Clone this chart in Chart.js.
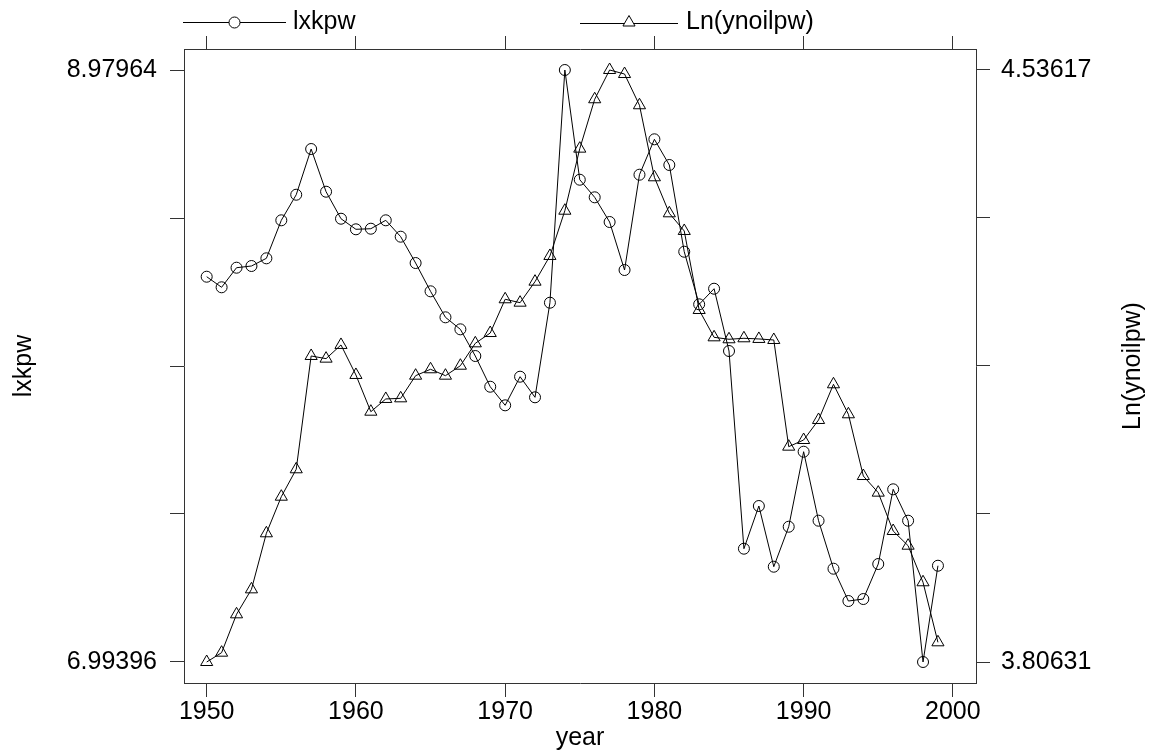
<!DOCTYPE html>
<html>
<head>
<meta charset="utf-8">
<script src="https://cdn.jsdelivr.net/npm/chart.js"></script>
<style>
  body { margin: 0; background: #fff; }
</style>
</head>
<body>
<canvas id="chart" width="1151" height="750"></canvas>
<script>
// data
const years = [1950, 1951, 1952, 1953, 1954, 1955, 1956, 1957, 1958, 1959,
  1960, 1961, 1962, 1963, 1964, 1965, 1966, 1967, 1968, 1969,
  1970, 1971, 1972, 1973, 1974, 1975, 1976, 1977, 1978, 1979,
  1980, 1981, 1982, 1983, 1984, 1985, 1986, 1987, 1988, 1989,
  1990, 1991, 1992, 1993, 1994, 1995, 1996, 1997, 1998, 1999];

const lxkpw = [8.2863, 8.2508, 8.3165, 8.3222, 8.3480, 8.4755, 8.5613, 8.7146, 8.5714, 8.4808,
  8.4453, 8.4473, 8.4755, 8.4205, 8.3322, 8.2373, 8.1501, 8.1098, 8.0203, 7.9173,
  7.8549, 7.9509, 7.8818, 8.1991, 8.97964, 8.6116, 8.5526, 8.4698, 8.3088, 8.6284,
  8.7472, 8.6610, 8.3701, 8.1937, 8.2460, 8.0371, 7.3740, 7.5172, 7.3136, 7.4477,
  7.6993, 7.4679, 7.3069, 7.1985, 7.2052, 7.3226, 7.5732, 7.4679, 6.99396, 7.3169];

const lnYnoilpw = [3.80631, 3.8178, 3.8651, 3.8959, 3.9650, 4.0101, 4.0439, 4.1836, 4.1803, 4.1972,
  4.1602, 4.1149, 4.1306, 4.1314, 4.1593, 4.1672, 4.1593, 4.1716, 4.1992, 4.2119,
  4.2535, 4.2493, 4.2752, 4.3069, 4.3627, 4.4392, 4.5001, 4.53617, 4.5312, 4.4927,
  4.4039, 4.3595, 4.3377, 4.2403, 4.2066, 4.2042, 4.2054, 4.2046, 4.2033, 4.0718,
  4.0800, 4.1047, 4.1487, 4.1117, 4.0356, 4.0151, 3.9678, 3.9497, 3.9046, 3.8306];

const xTicks = [1950, 1960, 1970, 1980, 1990, 2000];
const leftTicks = [6.99396, 7.49038, 7.98680, 8.48322, 8.97964];
const rightTicks = [3.80631, 3.98878, 4.17124, 4.35371, 4.53617];

const FONT = "'Liberation Sans', Arial, Helvetica, sans-serif";
const frame = '#333';

function pts(ys) {
  return years.map((yr, i) => ({ x: yr, y: ys[i] }));
}

function setTicks(list) {
  return function (scale) {
    scale.ticks = list.map(v => ({ value: v }));
  };
}

// only the end ticks carry a label, like the original
function endLabels(list) {
  return function (value, index) {
    if (index === 0 || index === list.length - 1) return String(list[index]);
    return '';
  };
}

// legend on top and the right axis title (reads upward)
const extras = {
  id: 'extras',
  afterDraw(chart) {
    const ctx = chart.ctx;
    ctx.save();
    ctx.strokeStyle = '#000';
    ctx.lineWidth = 1;
    ctx.fillStyle = '#000';
    ctx.font = '25px ' + FONT;
    ctx.textBaseline = 'middle';

    const y = 22;
    // lxkpw
    ctx.beginPath();
    ctx.moveTo(183, y + 0.5); ctx.lineTo(229, y + 0.5);
    ctx.moveTo(240, y + 0.5); ctx.lineTo(286, y + 0.5);
    ctx.stroke();
    ctx.beginPath();
    ctx.arc(234.5, y + 0.5, 5.5, 0, Math.PI * 2);
    ctx.stroke();
    ctx.textAlign = 'left';
    ctx.fillText('lxkpw', 293, y);

    // Ln(ynoilpw)
    ctx.beginPath();
    ctx.moveTo(580, y + 1.5); ctx.lineTo(678, y + 1.5);
    ctx.stroke();
    const r = 7, cx = 629, cy = y + 0.5;
    ctx.fillStyle = '#fff';
    ctx.beginPath();
    ctx.moveTo(cx, cy - r);
    ctx.lineTo(cx + r * Math.sin(2 * Math.PI / 3), cy - r * Math.cos(2 * Math.PI / 3));
    ctx.lineTo(cx + r * Math.sin(4 * Math.PI / 3), cy - r * Math.cos(4 * Math.PI / 3));
    ctx.closePath();
    ctx.fill();
    ctx.stroke();
    ctx.fillStyle = '#000';
    ctx.fillText('Ln(ynoilpw)', 686, y);

    // right axis title
    ctx.translate(1133, 366);
    ctx.rotate(-Math.PI / 2);
    ctx.textAlign = 'center';
    ctx.fillText('Ln(ynoilpw)', 0, 0);
    ctx.restore();
  }
};

new Chart(document.getElementById('chart'), {
  type: 'line',
  data: {
    datasets: [{
      label: 'lxkpw',
      data: pts(lxkpw),
      yAxisID: 'y',
      borderColor: '#000',
      borderWidth: 1,
      pointStyle: 'circle',
      pointRadius: 5.5,
      pointBorderColor: '#000',
      pointBorderWidth: 1,
      pointBackgroundColor: 'rgba(0,0,0,0)',
      tension: 0
    }, {
      label: 'Ln(ynoilpw)',
      data: pts(lnYnoilpw),
      yAxisID: 'y1',
      borderColor: '#000',
      borderWidth: 1,
      pointStyle: 'triangle',
      pointRadius: 7,
      pointBorderColor: '#000',
      pointBorderWidth: 1,
      pointBackgroundColor: 'rgba(0,0,0,0)',
      tension: 0
    }]
  },
  options: {
    responsive: false,
    animation: false,
    layout: { padding: 0, autoPadding: false },
    plugins: {
      legend: { display: false },
      tooltip: { enabled: false }
    },
    scales: {
      x: {
        type: 'linear',
        position: 'bottom',
        min: 1948.48,
        max: 2001.55,
        afterBuildTicks: setTicks(xTicks),
        afterFit: s => { s.height = 67; },
        grid: { drawOnChartArea: false, tickLength: 14, color: frame },
        border: { color: frame, width: 1 },
        ticks: { padding: 0, color: '#000', font: { family: FONT, size: 25 }, maxRotation: 0, callback: v => String(v) },
        title: { display: true, text: 'year', color: '#000', font: { family: FONT, size: 25 }, padding: { top: 0, bottom: -3 } }
      },
      xTop: {
        type: 'linear',
        position: 'top',
        min: 1948.48,
        max: 2001.55,
        afterBuildTicks: setTicks(xTicks),
        afterFit: s => { s.height = 49; },
        grid: { drawOnChartArea: false, tickLength: 13, color: frame },
        border: { color: frame, width: 1 },
        ticks: { display: false }
      },
      y: {
        position: 'left',
        min: 6.92352,
        max: 9.05008,
        afterBuildTicks: setTicks(leftTicks),
        afterFit: s => { s.width = 184; },
        grid: { drawOnChartArea: false, tickLength: 14, color: frame },
        border: { color: frame, width: 1 },
        ticks: { padding: 13, color: '#000', font: { family: FONT, size: 25 }, callback: endLabels(leftTicks) },
        title: { display: true, text: 'lxkpw', color: '#000', font: { family: FONT, size: 25 }, padding: { top: 9, bottom: 0 } }
      },
      y1: {
        position: 'right',
        min: 3.78042,
        max: 4.56206,
        afterBuildTicks: setTicks(rightTicks),
        afterFit: s => { s.width = 175; },
        grid: { drawOnChartArea: false, tickLength: 14, color: frame },
        border: { color: frame, width: 1 },
        ticks: { padding: 11, color: '#000', font: { family: FONT, size: 25 }, callback: endLabels(rightTicks) }
      }
    }
  },
  plugins: [extras]
});
</script>
</body>
</html>
